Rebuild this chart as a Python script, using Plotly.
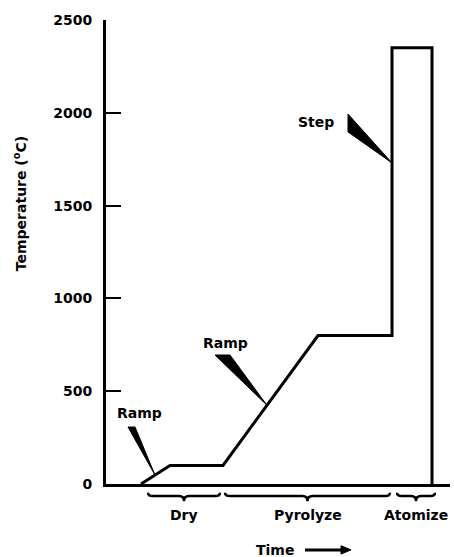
import plotly.graph_objects as go

# Furnace temperature program (time in arbitrary units, temperature in °C)
time_pts = [35, 64, 117, 212, 286, 286, 326, 326]
temp_pts = [0, 100, 100, 800, 800, 2350, 2350, 0]

y_ticks = [0, 500, 1000, 1500, 2000, 2500]

# step names and their time spans (braces under the axis)
step_names = ["Dry", "Pyrolyze", "Atomize"]
step_start = [42, 119, 291]
step_end = [114, 284, 329]

# callouts: label, label position, wedge (base1, base2, tip)
callout_labels = ["Ramp", "Ramp", "Step"]
callout_label_xy = [(33.5, 383), (119, 760), (210, 1950)]
callout_wedges = [
    [(22, 307), (29, 307), (49, 48)],
    [(109, 695), (124, 695), (161, 424)],
    [(242, 1993), (242, 1897), (286, 1730)],
]

FONT = "DejaVu Sans"
BLACK = "#000000"

fig = go.Figure()
fig.add_trace(go.Scatter(
    x=time_pts, y=temp_pts, mode="lines",
    line=dict(color=BLACK, width=3), cliponaxis=False, showlegend=False,
    hoverinfo="skip",
))

shapes = []
annotations = []

# wedges
for w in callout_wedges:
    p = "M {},{} L {},{} L {},{} Z".format(w[0][0], w[0][1], w[1][0], w[1][1], w[2][0], w[2][1])
    shapes.append(dict(type="path", path=p, xref="x", yref="y",
                       fillcolor=BLACK, line=dict(color=BLACK, width=1)))

for lab, (lx, ly) in zip(callout_labels, callout_label_xy):
    annotations.append(dict(x=lx, y=ly, xref="x", yref="y", text=lab, showarrow=False,
                            yanchor="middle", xanchor="center",
                            font=dict(family=FONT, size=14, color=BLACK, weight="bold")))

# braces
ytop, ymid, ytip = -0.019, -0.026, -0.037
r = 5
for name, a, b in zip(step_names, step_start, step_end):
    m = (a + b) / 2
    p = (f"M {a},{ytop} Q {a},{ymid} {a+r},{ymid} L {m-r},{ymid} Q {m},{ymid} {m},{ytip} "
         f"Q {m},{ymid} {m+r},{ymid} L {b-r},{ymid} Q {b},{ymid} {b},{ytop}")
    shapes.append(dict(type="path", path=p, xref="x", yref="paper",
                       line=dict(color=BLACK, width=2.5)))
    annotations.append(dict(x=m, y=-0.067, xref="x", yref="paper", text=name, showarrow=False,
                            yanchor="middle", xanchor="center",
                            font=dict(family=FONT, size=14, color=BLACK, weight="bold")))

# Time label and arrow
ty = -0.142
annotations.append(dict(x=169, y=ty, xref="x", yref="paper", text="Time", showarrow=False,
                        yanchor="middle", xanchor="center",
                        font=dict(family=FONT, size=14, color=BLACK, weight="bold")))
shapes.append(dict(type="line", x0=199, x1=237, y0=ty, y1=ty, xref="x", yref="paper",
                   line=dict(color=BLACK, width=3)))
shapes.append(dict(type="path", path=f"M 235,{ty+0.009} L 245,{ty} L 235,{ty-0.009} Z",
                   xref="x", yref="paper", fillcolor=BLACK, line=dict(color=BLACK, width=1)))

# y-axis title (placed as annotation to match the reference's vertical position)
annotations.append(dict(x=-0.25, y=0.603, xref="paper", yref="paper", xanchor="center",
                        yanchor="middle", textangle=-90, showarrow=False,
                        text="Temperature (<sup>o</sup>C)",
                        font=dict(family=FONT, size=14, color=BLACK, weight="bold")))

fig.update_layout(
    width=454, height=557,
    margin=dict(l=106, r=4, t=20, b=73),
    paper_bgcolor="white", plot_bgcolor="white",
    shapes=shapes, annotations=annotations,
    xaxis=dict(range=[0, 344], showgrid=False, zeroline=False, showticklabels=False,
               ticks="", showline=True, linecolor=BLACK, linewidth=3),
    yaxis=dict(range=[0, 2500], tickvals=y_ticks, ticktext=[str(v) for v in y_ticks],
               ticks="inside", ticklen=15, tickwidth=2, tickcolor=BLACK,
               showgrid=False, zeroline=False, showline=True, linecolor=BLACK, linewidth=3,
               ticklabelstandoff=8,
               tickfont=dict(family=FONT, size=14, color=BLACK, weight="bold")),
)

fig.write_html("out.html", config={"displayModeBar": False},
               post_script="document.body.style.margin='0';")
